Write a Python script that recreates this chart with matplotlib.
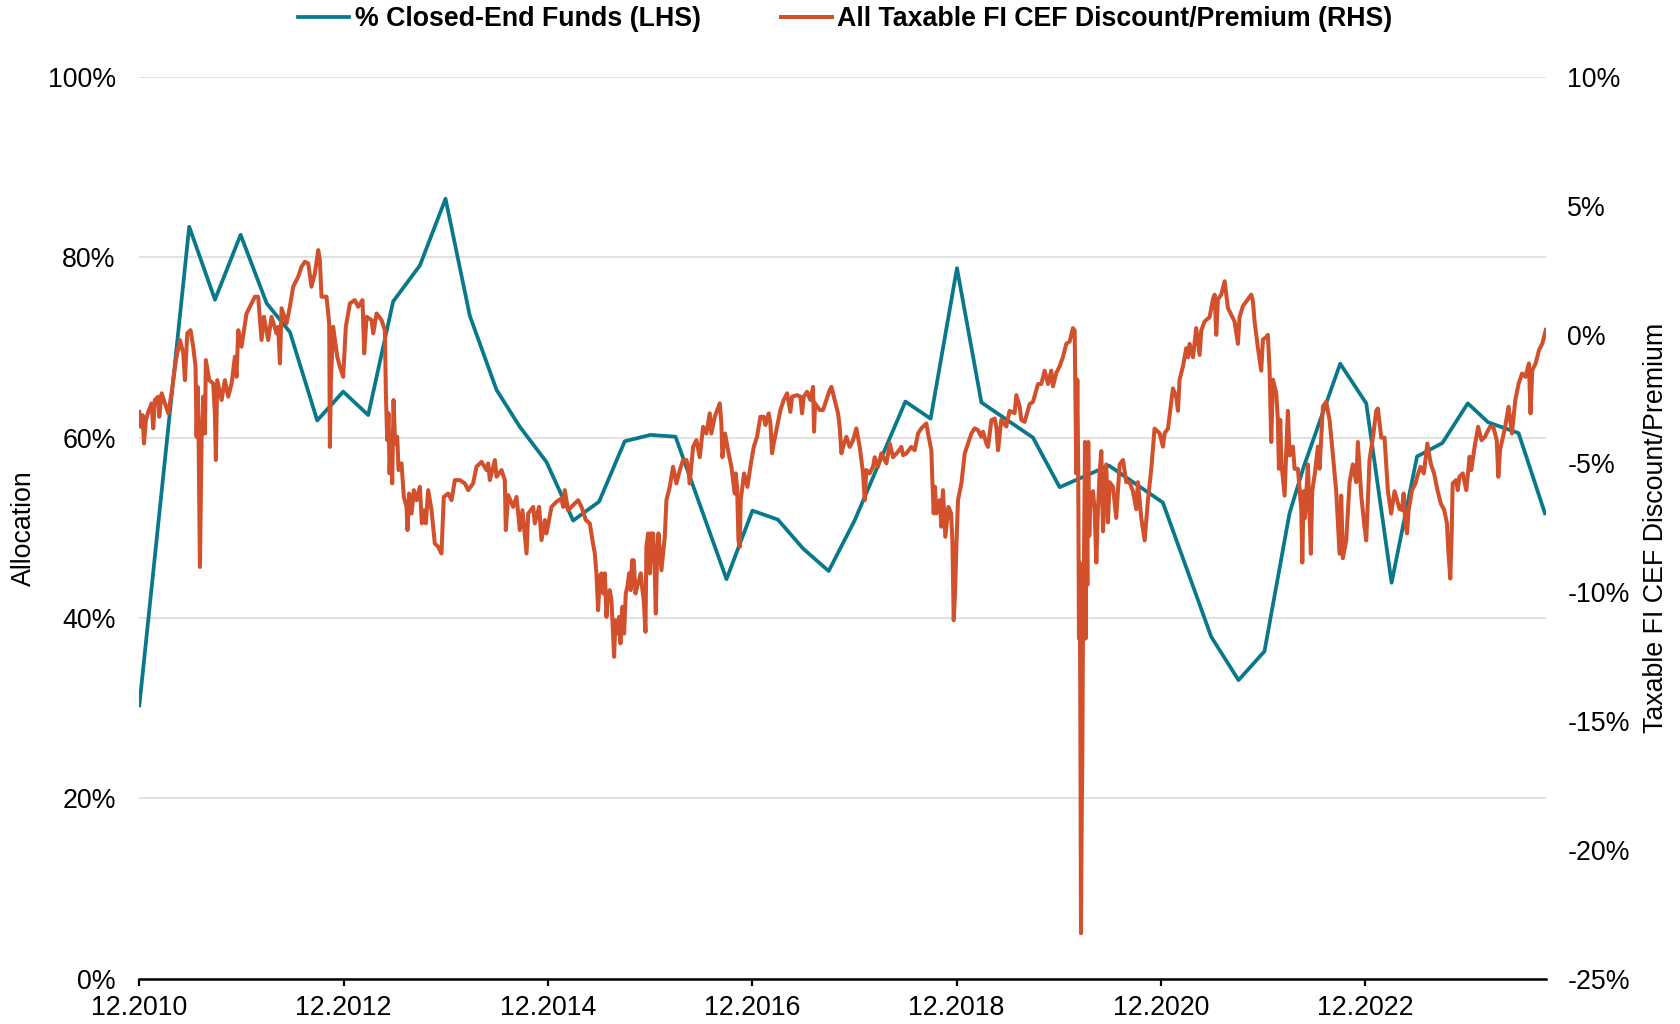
import matplotlib.pyplot as plt
from matplotlib.ticker import FuncFormatter

# Styling
plt.rcParams["font.family"] = ["Liberation Sans", "DejaVu Sans"]
plt.rcParams["font.size"] = 19.3

TEAL = "#08788A"
ORANGE = "#D2502C"

# % Closed-End Funds (LHS), decimal year / allocation %
cef_years = [2010.917, 2011.405, 2011.657, 2011.908, 2012.163, 2012.391, 2012.658, 2012.912,
             2013.157, 2013.401, 2013.663, 2013.914, 2014.152, 2014.413, 2014.641, 2014.902,
             2015.163, 2015.417, 2015.668, 2015.920, 2016.165, 2016.664, 2016.918, 2017.168,
             2017.413, 2017.664, 2017.918, 2018.415, 2018.662, 2018.920, 2019.159, 2019.664,
             2019.925, 2020.407, 2020.935, 2021.409, 2021.676, 2021.930, 2022.175, 2022.312,
             2022.671, 2022.926, 2023.174, 2023.423, 2023.671, 2023.920, 2024.119, 2024.417,
             2024.675]
cef_pct = [30.3, 83.4, 75.3, 82.5, 74.9, 71.7, 61.9, 65.1,
           62.5, 75.1, 79.1, 86.5, 73.5, 65.3, 61.2, 57.3,
           50.8, 52.9, 59.6, 60.3, 60.1, 44.3, 51.9, 50.9,
           47.7, 45.2, 50.8, 64.0, 62.1, 78.8, 63.9, 60.0,
           54.5, 56.9, 52.8, 37.9, 33.1, 36.3, 51.6, 56.7,
           68.2, 63.8, 43.9, 57.9, 59.4, 63.8, 61.7, 60.5,
           51.6]

# All Taxable FI CEF Discount/Premium (RHS), decimal year / %
disc_years = [
    2010.916, 2010.929, 2010.949, 2010.962, 2010.981, 2011.004, 2011.037, 2011.053, 2011.069, 2011.102,
    2011.112, 2011.135, 2011.167, 2011.200, 2011.232, 2011.275, 2011.314, 2011.347, 2011.363, 2011.386,
    2011.418, 2011.444, 2011.467, 2011.477, 2011.487, 2011.497, 2011.510, 2011.526, 2011.542, 2011.559,
    2011.568, 2011.601, 2011.640, 2011.656, 2011.666, 2011.679, 2011.722, 2011.754, 2011.787, 2011.820,
    2011.852, 2011.868, 2011.885, 2011.917, 2011.966, 2011.999, 2012.048, 2012.080, 2012.113, 2012.136,
    2012.178, 2012.211, 2012.260, 2012.276, 2012.293, 2012.309, 2012.358, 2012.390, 2012.423, 2012.472,
    2012.504, 2012.537, 2012.570, 2012.602, 2012.635, 2012.668, 2012.684, 2012.700, 2012.749, 2012.775,
    2012.782, 2012.792, 2012.814, 2012.854, 2012.880, 2012.912, 2012.938, 2012.978, 2013.026, 2013.059,
    2013.101, 2013.118, 2013.141, 2013.190, 2013.206, 2013.239, 2013.288, 2013.320, 2013.330, 2013.343,
    2013.356, 2013.366, 2013.379, 2013.392, 2013.405, 2013.421, 2013.441, 2013.454, 2013.483, 2013.506,
    2013.532, 2013.542, 2013.558, 2013.581, 2013.604, 2013.630, 2013.663, 2013.682, 2013.702, 2013.721,
    2013.744, 2013.777, 2013.809, 2013.842, 2013.874, 2013.897, 2013.940, 2013.973, 2014.005, 2014.054,
    2014.103, 2014.136, 2014.184, 2014.217, 2014.266, 2014.315, 2014.331, 2014.348, 2014.397, 2014.413,
    2014.462, 2014.494, 2014.504, 2014.527, 2014.576, 2014.609, 2014.641, 2014.667, 2014.707, 2014.723,
    2014.772, 2014.788, 2014.830, 2014.853, 2014.886, 2014.902, 2014.951, 2015.000, 2015.049, 2015.065,
    2015.081, 2015.114, 2015.163, 2015.212, 2015.245,
    2015.287, 2015.326, 2015.352, 2015.375, 2015.391, 2015.407, 2015.424, 2015.440, 2015.456, 2015.473,
    2015.489, 2015.505, 2015.521, 2015.538, 2015.554, 2015.564, 2015.577, 2015.593, 2015.613, 2015.626,
    2015.645, 2015.662, 2015.678, 2015.694, 2015.711, 2015.727, 2015.740, 2015.756, 2015.773, 2015.789,
    2015.809, 2015.825, 2015.841, 2015.854, 2015.871, 2015.880, 2015.897, 2015.913, 2015.929, 2015.946,
    2015.962, 2015.972, 2015.985, 2015.998, 2016.027, 2016.043, 2016.060, 2016.076, 2016.109, 2016.141,
    2016.174, 2016.207, 2016.239, 2016.272, 2016.288, 2016.304, 2016.337, 2016.370, 2016.402, 2016.435,
    2016.467, 2016.500, 2016.516, 2016.549, 2016.598, 2016.614, 2016.624, 2016.650, 2016.679, 2016.712,
    2016.745, 2016.754, 2016.768, 2016.781, 2016.794, 2016.803, 2016.836, 2016.869, 2016.898, 2016.931,
    2016.963, 2016.996, 2017.028, 2017.045, 2017.077, 2017.094, 2017.110, 2017.126, 2017.159, 2017.192,
    2017.224, 2017.257, 2017.289, 2017.306, 2017.355, 2017.387, 2017.404, 2017.420, 2017.453, 2017.485,
    2017.511, 2017.521, 2017.531, 2017.577, 2017.609, 2017.642, 2017.674, 2017.691, 2017.723, 2017.756,
    2017.772, 2017.789, 2017.805, 2017.837, 2017.870, 2017.903, 2017.935, 2017.968, 2018.001, 2018.017,
    2018.033, 2018.066, 2018.098, 2018.115, 2018.147, 2018.180, 2018.229, 2018.262, 2018.294, 2018.343,
    2018.376, 2018.392, 2018.425, 2018.473, 2018.506, 2018.539, 2018.571, 2018.620, 2018.637, 2018.669,
    2018.679, 2018.692, 2018.705, 2018.718, 2018.751, 2018.767, 2018.783, 2018.806, 2018.836, 2018.862,
    2018.875, 2018.888, 2018.901, 2018.914, 2018.930, 2018.963, 2018.996, 2019.028, 2019.061, 2019.093,
    2019.126, 2019.158, 2019.175, 2019.208, 2019.224, 2019.257, 2019.289, 2019.305, 2019.322,
    2019.354, 2019.403, 2019.435, 2019.484, 2019.501, 2019.533, 2019.550, 2019.582, 2019.631, 2019.664,
    2019.713, 2019.745, 2019.778, 2019.811, 2019.843, 2019.860, 2019.892, 2019.925, 2019.957, 2019.990,
    2020.023, 2020.055, 2020.072, 2020.078, 2020.088, 2020.098, 2020.107, 2020.114, 2020.120, 2020.127,
    2020.134, 2020.140, 2020.147, 2020.153, 2020.163, 2020.173, 2020.179, 2020.186, 2020.196, 2020.205,
    2020.215, 2020.225, 2020.251, 2020.267, 2020.284, 2020.297, 2020.316, 2020.333, 2020.349, 2020.381,
    2020.398, 2020.414, 2020.447, 2020.479, 2020.512, 2020.545, 2020.577, 2020.610, 2020.642, 2020.675,
    2020.691, 2020.724, 2020.757, 2020.789, 2020.822, 2020.854, 2020.903, 2020.936, 2020.952, 2020.985,
    2021.018, 2021.034, 2021.067, 2021.083, 2021.099, 2021.132, 2021.164, 2021.181, 2021.197, 2021.230,
    2021.262, 2021.295, 2021.311, 2021.344, 2021.393, 2021.425, 2021.442, 2021.458, 2021.474, 2021.507,
    2021.540, 2021.572, 2021.605, 2021.637, 2021.670, 2021.686, 2021.719, 2021.768, 2021.800, 2021.817,
    2021.833, 2021.866, 2021.898, 2021.915, 2021.947, 2021.963, 2021.980, 2021.996, 2022.012, 2022.045,
    2022.061, 2022.071, 2022.084, 2022.097, 2022.127, 2022.143, 2022.159, 2022.176, 2022.208, 2022.225,
    2022.257, 2022.290, 2022.300, 2022.313, 2022.326, 2022.355, 2022.384, 2022.397, 2022.423, 2022.453,
    2022.469, 2022.502, 2022.534, 2022.567, 2022.600, 2022.632, 2022.665, 2022.681, 2022.697, 2022.730,
    2022.763, 2022.795, 2022.828, 2022.844, 2022.877, 2022.909, 2022.926, 2022.958, 2022.991, 2023.024,
    2023.040, 2023.073, 2023.105, 2023.138, 2023.170, 2023.203, 2023.252,
    2023.275, 2023.292, 2023.308, 2023.325, 2023.341, 2023.374, 2023.408, 2023.424, 2023.457, 2023.490,
    2023.524, 2023.557, 2023.590, 2023.623, 2023.656, 2023.689, 2023.716, 2023.729, 2023.749, 2023.762,
    2023.772, 2023.805, 2023.822, 2023.838, 2023.871, 2023.905, 2023.938, 2023.954, 2023.987, 2024.021,
    2024.054, 2024.087, 2024.137, 2024.170, 2024.203, 2024.219, 2024.236, 2024.286, 2024.319, 2024.352,
    2024.385, 2024.418, 2024.451, 2024.485, 2024.518, 2024.534, 2024.551, 2024.584, 2024.617, 2024.650,
    2024.684]
disc_vals = [
    -3.00, -3.58, -3.13, -4.23, -3.32, -3.00, -2.67, -3.64, -2.54, -2.41,
    -3.19, -2.28, -2.67, -3.06, -2.28, -0.99, -0.21, -0.73, -1.77, 0.05,
    0.17, -0.47, -1.25, -3.97, -2.03, -4.10, -9.02, -4.10, -2.41, -3.84,
    -0.99, -1.77, -1.90, -3.06, -4.87, -1.77, -2.54, -1.77, -2.41, -1.90,
    -0.86, -1.64, 0.17, -0.47, 0.82, 1.08, 1.47, 1.47, -0.21, 0.69,
    -0.21, 0.69, 0.05, 0.30, -1.12, 1.02, 0.43, 1.08, 1.86, 2.25,
    2.63, 2.83, 2.76, 1.86, 2.38, 3.28, 2.89, 1.47, 1.47, 0.43,
    -4.36, -1.77, 0.30, -0.86, -1.25, -1.64, 0.30, 1.21, 1.34, 1.08,
    1.34, -0.73, 0.69, 0.56, 0.05, 0.82, 0.56, 0.17, -2.28, -4.10,
    -3.06, -5.39, -3.84, -5.78, -2.54, -4.23, -3.97, -5.26, -5.00, -6.30,
    -6.69, -7.59, -6.17, -6.95, -6.04, -6.43, -5.91, -7.33, -6.82, -7.33,
    -6.04, -6.82, -8.11, -8.24, -8.50, -6.30, -6.17, -6.43, -5.65, -5.65,
    -5.78, -6.04, -5.78, -5.13, -4.94, -5.26, -5.00, -5.65, -4.87, -5.52,
    -5.26, -5.65, -7.59, -6.23, -6.69, -6.30, -7.59, -6.82, -8.50, -6.95,
    -6.69, -7.33, -6.69, -7.98, -7.20, -7.72, -6.69, -6.49, -6.36, -6.69,
    -6.04, -6.82, -6.62, -6.43, -6.69,
    -7.20, -7.33, -7.98, -8.50, -9.27, -10.70, -9.40, -9.27, -10.05, -9.27,
    -10.96, -10.05, -9.92, -10.31, -11.61, -12.51, -11.09, -11.61, -10.96, -11.99,
    -10.57, -11.61, -10.05, -9.79, -9.27, -9.92, -8.76, -8.76, -10.05, -9.79,
    -9.53, -9.27, -9.92, -10.31, -11.54, -8.24, -7.72, -9.27, -7.72, -7.72,
    -9.27, -10.83, -8.50, -7.72, -9.15, -8.50, -7.85, -6.43, -5.91, -5.13,
    -5.78, -5.26, -4.87, -4.87, -5.13, -5.78, -4.36, -4.10, -4.76, -3.58,
    -3.84, -3.06, -3.84, -3.19, -2.67, -3.45, -4.76, -3.84, -4.49, -5.13,
    -6.17, -5.39, -5.91, -7.98, -8.24, -6.43, -5.39, -5.91, -5.13, -4.36,
    -3.97, -3.19, -3.19, -3.51, -3.06, -3.45, -4.61, -4.23, -3.58, -2.93,
    -2.54, -2.28, -3.00, -2.41, -2.35, -2.41, -3.06, -2.41, -2.22, -2.54,
    -2.03, -3.77, -2.67, -2.93, -2.93, -2.54, -2.15, -2.03, -2.54, -3.06,
    -3.58, -4.61, -4.36, -3.97, -4.36, -4.10, -3.64, -4.36, -5.39, -6.43,
    -5.26, -5.39, -5.13, -4.76, -5.13, -4.61, -5.00, -4.23, -4.76, -4.55,
    -4.36, -4.68, -4.61, -4.36, -4.49, -3.84, -3.64, -3.45, -3.84, -4.49,
    -5.65, -6.94, -5.91, -6.94, -6.43, -7.46, -6.04, -7.85, -6.69, -6.94,
    -7.98, -11.09, -10.05, -8.24, -6.43, -5.78, -4.61, -4.23, -3.84, -3.64,
    -3.71, -3.97, -3.77, -4.23, -4.36, -3.32, -3.26, -3.58, -4.49,
    -3.31, -3.57, -2.96, -3.05, -2.35, -2.79, -3.31, -3.39, -2.70, -2.61,
    -1.92, -1.92, -1.40, -1.92, -1.40, -2.01, -1.49, -1.23, -0.88, -0.36,
    -0.27, 0.25, 0.16, -1.92, -5.39, -1.75, -5.39, -11.80, -8.85, -14.06,
    -23.24, -19.26, -16.31, -11.46, -8.85, -4.17, -11.80, -5.39, -9.72, -4.17,
    -7.81, -6.43, -6.08, -6.78, -8.85, -7.12, -5.39, -4.52, -7.64, -5.04,
    -7.29, -5.73, -5.91, -7.12, -5.04, -4.87, -5.73, -5.73, -6.08, -6.78,
    -5.73, -7.12, -7.99, -6.43, -5.21, -3.65, -3.83, -4.35, -3.83, -3.65,
    -2.61, -2.09, -2.44, -2.96, -1.75, -1.23, -0.53, -0.88, -0.36, -0.88,
    0.25, -0.79, 0.16, 0.51, 0.68, 1.37, 1.55, -0.01, 1.37, 1.55,
    2.07, 1.03, 0.77, 0.51, -0.36, 0.68, 1.11, 1.37, 1.55, 1.29,
    0.51, -0.53, -1.40, -0.19, -0.10, -0.01, -1.40, -4.17, -1.75, -2.27,
    -3.31, -5.21, -3.31, -5.04, -6.25, -4.52, -2.96, -4.69, -4.35, -5.21,
    -5.21, -6.77, -8.85, -6.08, -7.12, -5.04, -8.51, -6.08, -5.39, -4.35,
    -5.21, -2.79, -2.61, -3.31, -4.69, -6.08, -8.51, -6.25, -8.68, -7.99,
    -5.73, -5.04, -5.73, -4.17, -6.25, -7.47, -7.99, -4.87, -4.00, -2.96,
    -2.87, -4.00, -4.00, -6.08, -6.95, -6.08, -6.77,
    -6.81, -6.17, -7.33, -7.72, -6.81, -6.04, -5.78, -5.52, -5.13, -5.39,
    -4.23, -5.00, -5.39, -6.04, -6.56, -6.81, -7.33, -8.37, -9.47, -7.72,
    -5.78, -5.65, -6.04, -5.52, -5.39, -6.04, -4.74, -5.26, -4.35, -3.58,
    -4.10, -3.97, -3.58, -3.58, -4.10, -5.52, -4.48, -3.58, -2.80, -3.84,
    -2.54, -1.90, -1.51, -1.64, -1.12, -3.06, -1.38, -1.12, -0.60, -0.34,
    0.18]

tick_years = [2010.917, 2012.917, 2014.917, 2016.917, 2018.917, 2020.917, 2022.917]
tick_labels = ["12.2010", "12.2012", "12.2014", "12.2016", "12.2018", "12.2020", "12.2022"]

fig = plt.figure(figsize=(16.81, 10.24), dpi=100)
ax = fig.add_axes([0.0829, 0.0444, 0.8367, 0.8804])
ax2 = ax.twinx()

l1, = ax.plot(cef_years, cef_pct, color=TEAL, lw=2.7,
              label="% Closed-End Funds (LHS)")
l2, = ax2.plot(disc_years, disc_vals, color=ORANGE, lw=2.9,
               label="All Taxable FI CEF Discount/Premium (RHS)")

ax.set_xlim(2010.917, 2024.684)
ax.set_ylim(0, 100)
ax.set_yticks(range(0, 101, 20))
ax.yaxis.set_major_formatter(FuncFormatter(lambda v, p: f"{v:.0f}%"))
ax2.set_ylim(-25, 10)
ax2.set_yticks(range(-25, 11, 5))
ax2.yaxis.set_major_formatter(FuncFormatter(lambda v, p: f"{v:.0f}%"))

ax.set_xticks(tick_years)
ax.set_xticklabels(tick_labels)

ax.grid(axis="y", color="#D9D9D9", lw=1.1)
ax.set_axisbelow(True)
for s in ["top", "left", "right"]:
    ax.spines[s].set_visible(False)
for s in ["top", "left", "right", "bottom"]:
    ax2.spines[s].set_visible(False)
ax.spines["bottom"].set_linewidth(1.8)
ax.spines["bottom"].set_color("black")

ax.tick_params(axis="x", direction="out", length=5, width=1.6, color="black", pad=7)
ax.tick_params(axis="y", length=0, pad=17)
ax2.tick_params(axis="y", length=0, pad=15.5)

ax.set_ylabel("Allocation")
ax.yaxis.set_label_coords(-0.0728, 0.5)
ax2.set_ylabel("Taxable FI CEF Discount/Premium")
ax2.yaxis.set_label_coords(1.069, 0.5)

fig.legend(handles=[l1, l2], loc="center", bbox_to_anchor=(0.503, 0.981), ncol=2,
           frameon=False, prop={"weight": "bold", "size": 19.3},
           handlelength=1.9, handletextpad=0.2, columnspacing=3.0)

fig.savefig("out.png", dpi=100)
